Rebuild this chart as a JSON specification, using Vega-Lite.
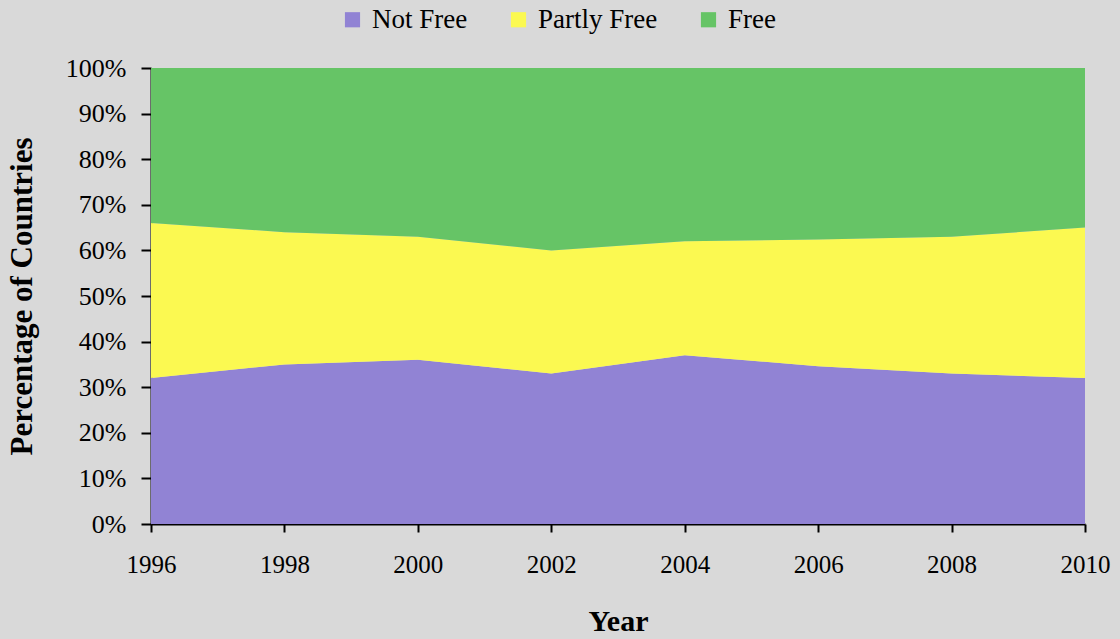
{
  "$schema": "https://vega.github.io/schema/vega-lite/v6.json",
  "autosize": "none",
  "width": 934,
  "height": 456,
  "padding": {"left": 151, "top": 68, "right": 35, "bottom": 115},
  "background": "#d9d9d9",
  "config": {
    "view": {"stroke": null},
    "font": "Liberation Serif"
  },
  "data": {
    "values": [
      {"year": 1996, "status": "Not Free", "pct": 32},
      {"year": 1998, "status": "Not Free", "pct": 35},
      {"year": 2000, "status": "Not Free", "pct": 36},
      {"year": 2002, "status": "Not Free", "pct": 33},
      {"year": 2004, "status": "Not Free", "pct": 37},
      {"year": 2006, "status": "Not Free", "pct": 34.6},
      {"year": 2008, "status": "Not Free", "pct": 33},
      {"year": 2010, "status": "Not Free", "pct": 32},
      {"year": 1996, "status": "Partly Free", "pct": 34},
      {"year": 1998, "status": "Partly Free", "pct": 29},
      {"year": 2000, "status": "Partly Free", "pct": 27},
      {"year": 2002, "status": "Partly Free", "pct": 27},
      {"year": 2004, "status": "Partly Free", "pct": 25},
      {"year": 2006, "status": "Partly Free", "pct": 27.8},
      {"year": 2008, "status": "Partly Free", "pct": 30},
      {"year": 2010, "status": "Partly Free", "pct": 33},
      {"year": 1996, "status": "Free", "pct": 34},
      {"year": 1998, "status": "Free", "pct": 36},
      {"year": 2000, "status": "Free", "pct": 37},
      {"year": 2002, "status": "Free", "pct": 40},
      {"year": 2004, "status": "Free", "pct": 38},
      {"year": 2006, "status": "Free", "pct": 37.6},
      {"year": 2008, "status": "Free", "pct": 37},
      {"year": 2010, "status": "Free", "pct": 35}
    ]
  },
  "transform": [
    {"calculate": "indexof(['Not Free', 'Partly Free', 'Free'], datum.status)", "as": "stackOrder"}
  ],
  "mark": {"type": "area", "opacity": 1},
  "encoding": {
    "x": {
      "field": "year",
      "type": "quantitative",
      "scale": {"domain": [1996, 2010], "nice": false, "zero": false},
      "axis": {
        "title": "Year",
        "values": [1996, 1998, 2000, 2002, 2004, 2006, 2008, 2010],
        "format": "d",
        "grid": false,
        "domainColor": "#000000",
        "domainWidth": 2,
        "tickColor": "#000000",
        "tickWidth": 2,
        "tickSize": 8,
        "labelFont": "Liberation Serif",
        "labelFontSize": 25,
        "labelColor": "#000000",
        "labelPadding": 20,
        "labelFlush": false,
        "titleFont": "Liberation Serif",
        "titleFontSize": 30,
        "titleFontWeight": "bold",
        "titleColor": "#000000",
        "titlePadding": 29
      }
    },
    "y": {
      "field": "pct",
      "type": "quantitative",
      "stack": "zero",
      "scale": {"domain": [0, 100], "nice": false},
      "axis": {
        "title": "Percentage of Countries",
        "values": [0, 10, 20, 30, 40, 50, 60, 70, 80, 90, 100],
        "labelExpr": "datum.value + '%'",
        "grid": false,
        "domainColor": "#000000",
        "domainWidth": 2,
        "tickColor": "#000000",
        "tickWidth": 2,
        "tickSize": 10,
        "labelFont": "Liberation Serif",
        "labelFontSize": 26,
        "labelColor": "#000000",
        "labelPadding": 15,
        "titleFont": "Liberation Serif",
        "titleFontSize": 31,
        "titleFontWeight": "bold",
        "titleColor": "#000000",
        "titlePadding": 27
      }
    },
    "color": {
      "field": "status",
      "type": "nominal",
      "sort": ["Not Free", "Partly Free", "Free"],
      "scale": {
        "domain": ["Not Free", "Partly Free", "Free"],
        "range": ["#9183d4", "#fbf951", "#66c466"]
      },
      "legend": {
        "title": null,
        "orient": "none",
        "direction": "horizontal",
        "legendX": 188,
        "legendY": -62,
        "symbolType": "square",
        "symbolSize": 230,
        "symbolStrokeWidth": 0,
        "symbolOpacity": 1,
        "labelFont": "Liberation Serif",
        "labelFontSize": 27,
        "labelColor": "#000000",
        "labelOffset": 6,
        "columnPadding": 37
      }
    },
    "order": {"field": "stackOrder", "type": "quantitative", "sort": "ascending"}
  }
}
